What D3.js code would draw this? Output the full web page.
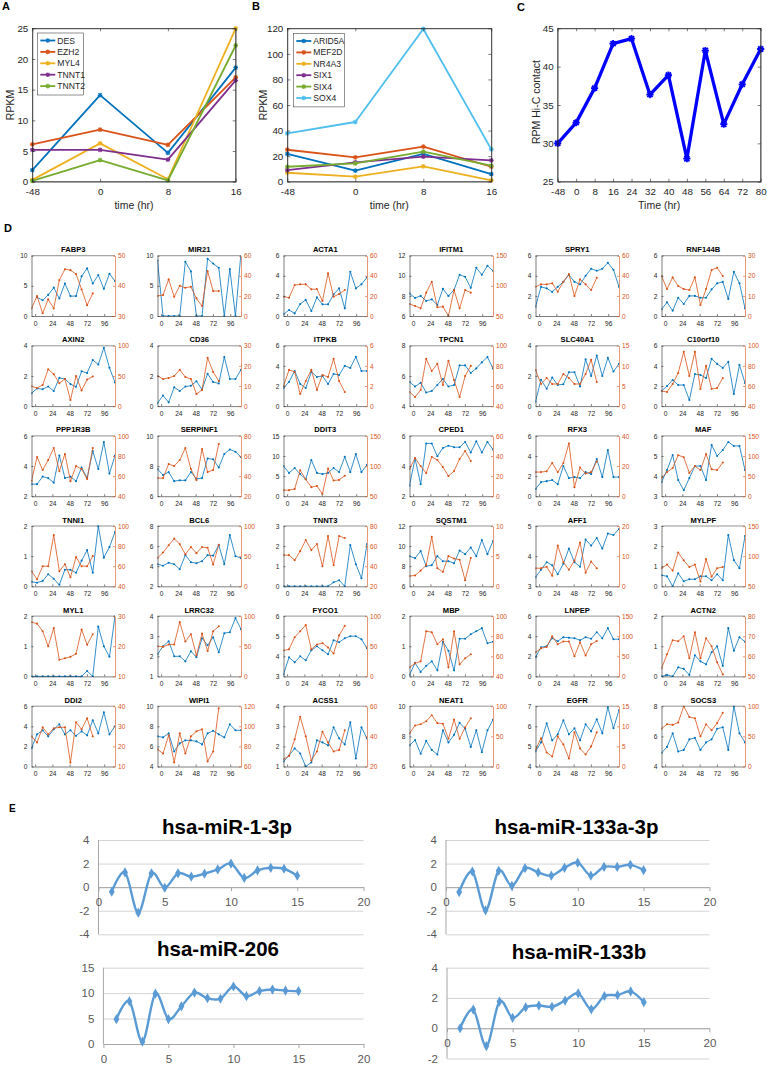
<!DOCTYPE html>
<html><head><meta charset="utf-8">
<script src="https://cdn.jsdelivr.net/npm/d3@7"></script>
<style>
body{margin:0;background:#fff}
svg{display:block}
text{font-family:"Liberation Sans",Arial,Helvetica,sans-serif}
</style>
</head><body>
<svg id="c" width="767" height="1067"></svg>
<script>
// ---------------- DATA ----------------
// Panel A
const abTimes = ["-48","0","8","16"];
const aGenes = ["DES","EZH2","MYL4","TNNT1","TNNT2"];
const aDES   = [1.9, 14.1, 4.7, 18.6];
const aEZH2  = [6.1, 8.5, 6.0, 17.0];
const aMYL4  = [0.3, 6.25, 0.4, 25.0];
const aTNNT1 = [5.2, 5.2, 3.6, 16.5];
const aTNNT2 = [0.15, 3.5, 0.2, 22.2];
const aTicksY = [0,5,10,15,20,25];
// Panel B
const bGenes = ["ARID5A","MEF2D","NR4A3","SIX1","SIX4","SOX4"];
const bARID5A = [21.7, 8.6, 21.7, 6.0];
const bMEF2D  = [25.0, 19.0, 27.4, 11.7];
const bNR4A3  = [7.0, 3.9, 12.0, 1.0];
const bSIX1   = [9.1, 15.1, 19.6, 16.7];
const bSIX4   = [11.7, 14.3, 23.5, 12.5];
const bSOX4   = [37.8, 46.7, 119.5, 25.3];
const bTicksY = [0,20,40,60,80,100,120];
// Panel C
const cTimes = ["-48","0","8","16","24","32","40","48","56","64","72","80"];
const cValues = [30.0, 32.7, 37.2, 43.0, 43.65, 36.35, 38.9, 28.0, 42.1, 32.5, 37.7, 42.3];
const cTicksY = [25,30,35,40,45];
// Panel D
const dTimes = [-5, 2.7, 10.5, 18.2, 25.9, 33.7, 41.4, 49.1, 56.9, 64.6, 72.3, 80.1, 87.8, 95.5, 103.3, 111];
const dTicksX = [0,24,48,72,96];
const dNames = ["FABP3","MIR21","ACTA1","IFITM1","SPRY1","RNF144B",
  "AXIN2","CD36","ITPKB","TPCN1","SLC40A1","C10orf10",
  "PPP1R3B","SERPINF1","DDIT3","CPED1","RFX3","MAF",
  "TNNI1","BCL6","TNNT3","SQSTM1","AFF1","MYLPF",
  "MYL1","LRRC32","FYCO1","MBP","LNPEP","ACTN2",
  "DDI2","WIPI1","ACSS1","NEAT1","EGFR","SOCS3"];
const dLeftTicks = [[0,5,10],[0,5,10],[0,2,4,6],[6,8,10,12],[0,2,4,6],[0,2,4,6],
  [0,2,4],[0,2,4],[0,2,4,6],[4,6,8],[0,2,4],[0,2,4,6],
  [2,4,6],[6,8,10],[0,5,10,15],[2,4,6],[0,2,4,6],[3,4,5,6],
  [0,1,2],[2,4,6,8],[0,1,2,3],[6,8,10,12],[3,4,5],[0,1,2,3],
  [0,1,2],[1,2,3,4],[3,4,5,6],[0,1,2],[0,2,4,6],[0,1,2],
  [0,2,4,6],[4,6,8,10],[1,2,3,4],[6,8,10],[4,5,6,7],[4,6,8]];
const dRightTicks = [[30,40,50],[0,20,40,60],[0,20,40,60],[50,100,150],[0,20,40,60],[0,10,20,30],
  [0,50,100],[0,10,20,30],[0,2,4,6],[40,60,80,100],[0,5,10,15],[40,60,80,100],
  [40,60,80,100],[20,40,60,80],[50,100,150],[0,20,40,60],[0,20,40],[0,50,100,150],
  [40,60,80,100],[0,50,100],[20,40,60,80],[0,5,10],[0,10,20],[50,100,150],
  [10,20,30],[0,50,100],[0,50,100],[40,60,80,100],[0,50,100,150],[50,60,70,80],
  [10,20,30,40],[60,80,100,120],[20,40,60],[0,50,100],[0,5,10,15],[0,50,100]];
const dBlue = [
  [null,3.1,2.6,3.5,4.7,2.9,5.4,3.3,3.3,6.6,7.9,5.4,6.8,4.5,7.0,5.8],
  [9.2,0,0,0,0,9.0,7.4,0,0,9.5,8.7,8.0,0,7.8,0,10.5],
  [0.17,0.6,0.26,1.2,1.6,0.5,1.85,1.16,1.16,2.15,2.75,0.76,4.4,2.75,3.15,3.85],
  [8.25,7.8,8.0,7.5,7.65,7.1,8.7,8.0,8.6,10.1,9.9,8.8,10.8,10.1,11.0,10.5],
  [0.93,2.9,2.75,2.4,2.9,3.4,4.1,3.4,3.15,4.0,4.7,4.5,4.7,5.3,4.6,2.9],
  [0.66,1.36,0.53,1.82,1.2,2.0,2.0,1.82,1.82,2.65,3.25,3.4,1.7,4.4,3.25,0.76],
  [0.85,1.17,1.12,1.3,1.0,1.87,1.8,1.46,1.28,2.31,2.2,3.06,2.76,3.87,2.54,1.57],
  [0.2,0.7,0.25,1.25,1.0,1.3,1.35,1.65,1.1,2.15,1.6,1.5,3.25,1.8,1.8,2.4],
  [1.8,2.4,3.5,2.2,1.8,3.4,2.9,3.0,2.2,3.2,3.1,4.0,3.8,4.9,3.5,3.5],
  [5.6,5.3,5.55,4.9,5.0,5.4,5.8,5.3,5.4,6.7,6.7,6.2,6.5,6.9,7.25,6.5],
  [0.3,1.75,1.15,1.9,1.4,1.45,2.25,2.25,1.3,3.1,2.0,3.35,2.0,3.2,2.3,2.8],
  [1.5,2.0,2.6,2.1,2.1,0.6,3.2,3.1,2.8,4.7,4.2,3.8,4.4,1.2,4.1,2.3],
  [2.8,2.8,3.3,3.2,2.9,4.7,3.2,3.3,3.0,3.9,3.2,5.0,3.8,5.6,3.5,4.7],
  [7.8,7.4,7.6,7.0,7.05,7.05,7.6,7.15,7.2,8.5,8.45,7.9,8.8,9.1,8.95,8.6],
  [7.5,5.8,7.0,5.5,4.2,9.0,5.8,5.5,5.8,7.0,6.0,9.8,6.0,10.5,6.0,7.8],
  [2.7,4.5,2.8,5.5,5.5,4.65,5.2,5.35,5.25,5.25,5.6,4.9,5.65,4.9,5.6,5.1],
  [0.7,1.4,1.5,1.6,1.2,3.0,1.8,1.9,1.8,2.4,2.2,3.7,1.9,4.6,1.9,1.9],
  [3.7,4.3,5.05,3.8,3.3,3.9,4.5,4.5,3.8,5.55,5.0,5.3,5.7,5.5,5.5,4.3],
  [0.15,0.12,0.18,0.4,0.25,0.05,0.55,0.55,0.45,0.85,1.2,0.45,2.0,0.95,1.3,1.8],
  [4.2,4.05,4.35,4.2,3.7,5.1,4.4,4.3,4.5,5.1,5.05,6.1,4.2,7.1,5.0,4.8],
  [0,0,0,0,0,0,0,0,0,0.2,0.3,0,2.05,1.1,0.4,2.1],
  [9.0,8.8,9.5,8.0,8.1,9.0,8.5,8.5,8.3,9.55,9.2,9.85,9.0,10.6,9.2,10.5],
  [3.3,3.55,3.8,3.7,3.4,3.75,4.25,3.8,3.65,4.55,4.35,4.6,4.25,4.75,4.7,4.9],
  [0.55,0.5,0.0,0.65,0.25,0.35,0.35,0.5,0.5,0.3,0.6,0.3,2.55,1.3,0.9,2.5],
  [0,0,0,0,0,0,0,0,0,0,0.18,0,1.65,1.0,0.65,2.0],
  [2.1,2.5,2.75,2.0,2.0,1.75,2.25,1.95,2.9,2.55,2.95,2.2,3.15,3.2,3.9,3.35],
  [3.1,3.95,3.7,4.0,3.8,4.3,4.5,4.3,4.1,4.8,4.7,4.9,5.0,5.0,4.85,4.4],
  [0.05,0.45,0.15,0.35,0.5,0.2,1.15,0.85,0.2,1.25,1.25,1.4,1.5,1.6,1.1,1.15],
  [1.9,2.9,3.0,3.8,3.5,3.9,3.85,3.8,3.6,3.9,3.75,4.4,3.8,4.8,3.7,3.7],
  [0.0,0.05,0.0,0.3,0.25,0.05,0.7,0.5,0.4,0.8,1.0,0.35,1.6,0.85,1.3,1.15],
  [1.8,3.2,3.6,3.0,3.7,4.2,3.2,3.6,3.05,3.5,3.1,4.6,3.3,5.4,3.2,4.0],
  [7.0,6.9,7.3,5.5,6.3,6.6,6.6,6.5,6.2,7.3,7.55,7.2,6.9,8.2,7.6,7.6],
  [1.25,1.55,1.9,1.65,1.0,1.2,2.3,2.2,2.05,2.95,2.4,2.1,3.2,1.4,2.95,2.4],
  [7.4,7.75,6.85,7.7,7.1,6.8,8.4,7.6,8.1,8.9,8.5,7.3,8.4,6.95,8.4,9.1],
  [4.75,5.2,6.15,5.3,5.6,6.3,5.6,5.9,5.3,6.1,5.75,6.35,5.65,6.95,5.9,6.8],
  [4.9,5.3,6.2,5.0,5.1,5.8,5.9,5.1,5.6,5.8,6.5,6.6,5.1,8.0,6.2,5.6]
];
const dOrange = [
  [32.5,36.6,30.9,35.5,32.5,41.9,45.5,45.2,43.9,38.8,33.6,37.5],
  [19.9,20.9,36.4,19.2,30.1,28.1,29.1,17.5,9.9,44.7,24.8,24.8],
  [19.2,18.2,30.8,31.5,31.5,26.5,26.8,14.9,42.4,19.2,21.9,25.8],
  [69.9,66.6,62.7,88.7,106.9,64.4,65.5,50,93.1,62.7,93.1,88.7],
  [29.1,31.5,31.5,32.5,24.2,34.1,41.7,19.9,36.4,31.5,25.8,38.1],
  [19.9,13.4,19.2,14.9,13.4,12.9,19.2,5.5,13.4,22.9,24.0,19.9],
  [33,30,35,61,53,38,45,10,50,26,44,49],
  [15,13.5,14,15,18,14.5,13.5,6,8,24,17,12.5],
  [2.0,3.6,3.4,1.2,2.5,3.6,1.6,3.1,2.9,4.7,2.5,1.4],
  [54,49,56,87,75,82,61,85,66,49,70,80],
  [9,5.5,7,5.5,5.5,8,7,5.5,5.5,8,11.5,6],
  [55,54,62,73,94,70,94,57,80,57,58,68],
  [55,79,66,76,88,65,82,55,70,67,57,88],
  [38,38,52,50,56,68,47,36,67,44,46,72],
  [60,60,62,93,78,65,67,54,96,76,77,84],
  [27,38,30,23,39,36,29,20,25,37,45,35],
  [16,16,16.5,22,16,22,35,6,19,15,16,23],
  [45,60,70,102,97,58,75,65,105,67,65,84],
  [55,47,60,60,91,55,62,49,69,60,60,70],
  [47,56,68,79,70,53,65,55,65,64,36,69],
  [51,51,46,55,66,56,62,40,70,41,70,68],
  [1.7,1.8,2.6,3.5,8.2,3.0,2.4,5.0,4.6,4.4,1.0,4.7],
  [6,6,6.5,3.5,13.5,8,5.5,8.5,14.5,4.5,8.2,6],
  [80,86,76,106,93,82,86,58,95,66,80,82],
  [28,27.5,25,20,26,15.5,16,16.5,17.5,25.5,20.5,24],
  [50,49,53,53,90,58,70,35,71,42,75,83],
  [43,45,65,75,85,45,53,55,48,38,68,84],
  [49,53,55,85,84,72,77,49,85,52,58,62],
  [60,70,73,100,80,87,87,50,85,52,80,88],
  [54,61,68,67.5,70,59,72,59,69,65,57,51],
  [25,22,29.5,26,29,29.5,29.5,12,32,28.5,34,25],
  [77,73,91,64,93,73,90,95,97,65,75,118],
  [25,27,38,53,40,24,30,43,36,30,31,44],
  [55,68,70,75,85,72,71,46,78,46,65,80],
  [4.2,7.0,3.5,2.5,7.5,5.5,2.0,8.5,4.5,3.0,5.0,8.5],
  [63,70,69,73,100,82,80,50,70,60,72,89]
];
// Panel E
const eX = [1,2,3,4,5,6,7,8,9,10,11,12,13,14,15];
const eTicksX = [0,5,10,15,20];
const eMiR1   = [-0.39,1.25,-2.17,1.17,-0.05,1.17,0.89,1.14,1.5,2.0,0.78,1.42,1.64,1.56,0.97];
const eMiR133a = [-0.42,1.33,-1.97,1.39,0.11,1.61,1.25,0.97,1.64,2.08,0.97,1.72,1.72,1.89,1.44];
const eMiR206 = [4.87,8.4,0.45,9.9,4.9,7.4,10.1,9.0,8.9,11.3,9.4,10.4,10.7,10.5,10.4];
const eMiR133b = [0.0,1.23,-1.18,1.76,0.69,1.38,1.5,1.42,1.83,2.3,1.25,2.13,2.19,2.43,1.72];

// ---------------- DRAW ----------------
const svg = d3.select("#c");
const defs = svg.append("defs");
const ink = "#262626";
const fmt = d => String(d);
const C = {blue:"#0072BD", orange:"#D95319", yellow:"#EDB120", purple:"#7E2F8E", green:"#77AC30", cyan:"#4DBEEE"};
const starPath = s => { const k = s*0.72; return `M${-s},0L${s},0M0,${-s}L0,${s}M${-k},${-k}L${k},${k}M${-k},${k}L${k},${-k}`; };

function styleAxis(sel, size, color) {
  sel.attr("font-size", size).attr("font-family", '"Liberation Sans",Arial,sans-serif');
  sel.selectAll("path.domain").attr("stroke", color).attr("stroke-width", 0.6);
  sel.selectAll(".tick line").attr("stroke", color).attr("stroke-width", 0.6);
  sel.selectAll(".tick text").attr("fill", color);
}

function matlabFrame(g, x, y, yTicks, L, R, T, B) {
  g.append("rect").attr("x", L).attr("y", T).attr("width", R - L).attr("height", B - T)
    .attr("fill", "none").attr("stroke", ink).attr("stroke-width", 0.6);
  styleAxis(g.append("g").attr("transform", `translate(0,${B})`)
    .call(d3.axisBottom(x).tickSize(-3).tickPadding(6).tickSizeOuter(0)), 9.8, ink);
  styleAxis(g.append("g").attr("transform", `translate(${L},0)`)
    .call(d3.axisLeft(y).tickValues(yTicks).tickFormat(fmt).tickSize(-3).tickPadding(4).tickSizeOuter(0)), 9.8, ink);
  styleAxis(g.append("g").attr("transform", `translate(0,${T})`)
    .call(d3.axisTop(x).tickSize(-3).tickFormat("").tickSizeOuter(0)), 9.8, ink);
  styleAxis(g.append("g").attr("transform", `translate(${R},0)`)
    .call(d3.axisRight(y).tickValues(yTicks).tickSize(-3).tickFormat("").tickSizeOuter(0)), 9.8, ink);
}

function seriesPlot(g, x, y, cats, vals, color, lw, ms, mw) {
  g.append("path").datum(vals)
    .attr("d", d3.line().x((d, j) => x(cats[j])).y(d => y(d)))
    .attr("fill", "none").attr("stroke", color).attr("stroke-width", lw).attr("stroke-linejoin", "round");
  g.selectAll(null).data(vals).enter().append("path")
    .attr("transform", (d, j) => `translate(${x(cats[j])},${y(d)})`)
    .attr("d", starPath(ms)).attr("stroke", color).attr("stroke-width", mw).attr("fill", "none");
}

function legend(g, names, colors, bx, by, bw, step) {
  const h = step * names.length + 5;
  g.append("rect").attr("x", bx).attr("y", by).attr("width", bw).attr("height", h)
    .attr("fill", "#fff").attr("stroke", ink).attr("stroke-width", 0.5);
  names.forEach((n, i) => {
    const yy = by + 7.5 + i * step;
    g.append("line").attr("x1", bx + 3).attr("x2", bx + 18).attr("y1", yy).attr("y2", yy)
      .attr("stroke", colors[i]).attr("stroke-width", 1.8);
    g.append("path").attr("transform", `translate(${bx + 10.5},${yy})`).attr("d", starPath(2.3))
      .attr("stroke", colors[i]).attr("stroke-width", 1.1).attr("fill", "none");
    g.append("text").attr("x", bx + 20).attr("y", yy + 3).attr("font-size", 8.6).attr("fill", ink).text(n);
  });
}

function panelLabel(t, x, y, s) {
  svg.append("text").attr("x", x).attr("y", y).attr("font-size", s).attr("font-weight", "bold").attr("fill", "#000").text(t);
}

// ---- Panel A ----
{
  const L = 32.3, R = 235.7, T = 28.3, B = 181.7;
  const g = svg.append("g");
  const x = d3.scalePoint().domain(abTimes).range([L, R]);
  const y = d3.scaleLinear().domain([0, 25]).range([B, T]);
  const vals = [aDES, aEZH2, aMYL4, aTNNT1, aTNNT2];
  const cols = [C.blue, C.orange, C.yellow, C.purple, C.green];
  vals.forEach((v, i) => seriesPlot(g, x, y, abTimes, v, cols[i], 1.8, 2.4, 1.1));
  matlabFrame(g, x, y, aTicksY, L, R, T, B);
  legend(g, aGenes, cols, 37.3, 33, 46, 11.4);
  g.append("text").attr("x", (L + R) / 2).attr("y", 209).attr("text-anchor", "middle").attr("font-size", 10.5).attr("fill", ink).text("time (hr)");
  g.append("text").attr("transform", `translate(13.5,${(T + B) / 2}) rotate(-90)`).attr("text-anchor", "middle").attr("font-size", 10.5).attr("fill", ink).text("RPKM");
  panelLabel("A", 2, 10, 11);
}
// ---- Panel B ----
{
  const L = 287.3, R = 491.3, T = 28.3, B = 181.7;
  const g = svg.append("g");
  const x = d3.scalePoint().domain(abTimes).range([L, R]);
  const y = d3.scaleLinear().domain([0, 120]).range([B, T]);
  const vals = [bARID5A, bMEF2D, bNR4A3, bSIX1, bSIX4, bSOX4];
  const cols = [C.blue, C.orange, C.yellow, C.purple, C.green, C.cyan];
  vals.forEach((v, i) => seriesPlot(g, x, y, abTimes, v, cols[i], 1.8, 2.4, 1.1));
  matlabFrame(g, x, y, bTicksY, L, R, T, B);
  legend(g, bGenes, cols, 293.3, 33.5, 51, 11.4);
  g.append("text").attr("x", (L + R) / 2).attr("y", 209).attr("text-anchor", "middle").attr("font-size", 10.5).attr("fill", ink).text("time (hr)");
  g.append("text").attr("transform", `translate(266.5,${(T + B) / 2}) rotate(-90)`).attr("text-anchor", "middle").attr("font-size", 10.5).attr("fill", ink).text("RPKM");
  panelLabel("B", 252, 10, 11);
}
// ---- Panel C ----
{
  const L = 557.7, R = 760.7, T = 28.3, B = 181.7;
  const g = svg.append("g");
  const x = d3.scalePoint().domain(cTimes).range([L, R]);
  const y = d3.scaleLinear().domain([25, 45]).range([B, T]);
  seriesPlot(g, x, y, cTimes, cValues, "#0000FF", 3.3, 3.6, 1.8);
  matlabFrame(g, x, y, cTicksY, L, R, T, B);
  g.append("text").attr("x", (L + R) / 2).attr("y", 209).attr("text-anchor", "middle").attr("font-size", 10.5).attr("fill", ink).text("Time (hr)");
  g.append("text").attr("transform", `translate(539.5,${(T + B) / 2 - 3}) rotate(-90)`).attr("text-anchor", "middle").attr("font-size", 10.5).attr("fill", ink).text("RPM Hi-C contact");
  panelLabel("C", 517, 11, 11);
}

// ---- Panel D ----
panelLabel("D", 4, 232, 11);
{
  const W = 83.5, H = 60.3;
  dNames.forEach((name, i) => {
    const col = i % 6, row = Math.floor(i / 6);
    const L = 31.5 + 126 * col, T = 255.7 + 90.1 * row, R = L + W, B = T + H;
    const g = svg.append("g");
    const x = d3.scaleLinear().domain([-5, 111]).range([L, R]);
    const lt = dLeftTicks[i], rt = dRightTicks[i];
    const yl = d3.scaleLinear().domain([lt[0], lt[lt.length - 1]]).range([B, T]);
    const yr = d3.scaleLinear().domain([rt[0], rt[rt.length - 1]]).range([B, T]);
    defs.append("clipPath").attr("id", "cp" + i).append("rect")
      .attr("x", L).attr("y", T - 0.5).attr("width", W).attr("height", H + 1);
    const pg = g.append("g").attr("clip-path", `url(#cp${i})`);
    const draw = (vals, ys, color) => {
      pg.append("path").datum(vals)
        .attr("d", d3.line().defined(d => d != null).x((d, j) => x(dTimes[j])).y(d => ys(d)))
        .attr("fill", "none").attr("stroke", color).attr("stroke-width", 0.8);
      pg.selectAll(null).data(vals.map((v, j) => [j, v]).filter(d => d[1] != null)).enter().append("circle")
        .attr("cx", d => x(dTimes[d[0]])).attr("cy", d => ys(d[1])).attr("r", 1.05).attr("fill", color);
    };
    draw(dBlue[i], yl, C.blue);
    draw(dOrange[i], yr, C.orange);
    g.append("line").attr("x1", L).attr("x2", R).attr("y1", T).attr("y2", T).attr("stroke", ink).attr("stroke-width", 0.5);
    styleAxis(g.append("g").attr("transform", `translate(0,${B})`)
      .call(d3.axisBottom(x).tickValues(dTicksX).tickFormat(fmt).tickSize(-2).tickPadding(5).tickSizeOuter(0)), 6.6, ink);
    styleAxis(g.append("g").attr("transform", `translate(${L},0)`)
      .call(d3.axisLeft(yl).tickValues(lt).tickFormat(fmt).tickSize(-2).tickPadding(4).tickSizeOuter(0)), 6.6, ink);
    styleAxis(g.append("g").attr("transform", `translate(${R},0)`)
      .call(d3.axisRight(yr).tickValues(rt).tickFormat(fmt).tickSize(-2).tickPadding(3).tickSizeOuter(0)), 6.6, C.orange);
    g.append("text").attr("x", (L + R) / 2).attr("y", T - 3.5).attr("text-anchor", "middle")
      .attr("font-size", 7.6).attr("font-weight", "bold").attr("fill", "#000").text(name);
  });
}

// ---- Panel E ----
panelLabel("E", 9, 812, 10);
function excelChart(cfg) {
  const g = svg.append("g");
  const x = d3.scaleLinear().domain([0, 20]).range([cfg.l, cfg.r]);
  const y = d3.scaleLinear().domain([cfg.yt[0], cfg.yt[cfg.yt.length - 1]]).range([cfg.b, cfg.t]);
  const ga = g.append("g").attr("transform", `translate(${cfg.l},0)`)
    .call(d3.axisLeft(y).tickValues(cfg.yt).tickFormat(fmt).tickSize(-(cfg.r - cfg.l)).tickPadding(9).tickSizeOuter(0));
  ga.attr("font-size", 11.5).attr("font-family", '"Liberation Sans",Arial,sans-serif');
  ga.select("path.domain").remove();
  ga.selectAll(".tick line").attr("stroke", "#D4D4D4").attr("stroke-width", 1);
  ga.selectAll(".tick text").attr("fill", "#595959");
  g.append("line").attr("x1", cfg.l).attr("x2", cfg.l).attr("y1", y(cfg.yt[0])).attr("y2", y(cfg.yt[cfg.yt.length - 1]))
    .attr("stroke", "#A6A6A6").attr("stroke-width", 1);
  const gx = g.append("g").attr("transform", `translate(0,${y(0)})`)
    .call(d3.axisBottom(x).tickValues(eTicksX).tickFormat(fmt).tickSize(4).tickPadding(7).tickSizeOuter(0));
  gx.attr("font-size", 11.5).attr("font-family", '"Liberation Sans",Arial,sans-serif');
  gx.selectAll("path.domain").attr("stroke", "#A6A6A6").attr("stroke-width", 1);
  gx.selectAll(".tick line").attr("stroke", "#A6A6A6");
  gx.selectAll(".tick text").attr("fill", "#595959");
  g.append("path").datum(cfg.v)
    .attr("d", d3.line().curve(d3.curveCardinal.tension(0)).x((d, j) => x(eX[j])).y(d => y(d)))
    .attr("fill", "none").attr("stroke", "#5B9BD5").attr("stroke-width", 2.4);
  g.selectAll(null).data(cfg.v).enter().append("path")
    .attr("transform", (d, j) => `translate(${x(eX[j])},${y(d)})`)
    .attr("d", d3.symbol(d3.symbolDiamond, 30)).attr("fill", "#5B9BD5");
  g.append("text").attr("x", cfg.tx).attr("y", cfg.ty).attr("text-anchor", "middle")
    .attr("font-size", 20.5).attr("font-weight", "bold").attr("fill", "#000").text(cfg.title);
}
excelChart({l: 98.5, r: 363.5, t: 840, b: 934.3, yt: [-4,-2,0,2,4], v: eMiR1, title: "hsa-miR-1-3p", tx: 227, ty: 834});
excelChart({l: 446, r: 709.4, t: 840, b: 934.3, yt: [-4,-2,0,2,4], v: eMiR133a, title: "hsa-miR-133a-3p", tx: 576.5, ty: 834});
excelChart({l: 103.4, r: 363.5, t: 967.7, b: 1044, yt: [0,5,10,15], v: eMiR206, title: "hsa-miR-206", tx: 218, ty: 956});
excelChart({l: 447, r: 709.4, t: 967.7, b: 1058.5, yt: [-2,0,2,4], v: eMiR133b, title: "hsa-miR-133b", tx: 579, ty: 959});
</script>
</body></html>
